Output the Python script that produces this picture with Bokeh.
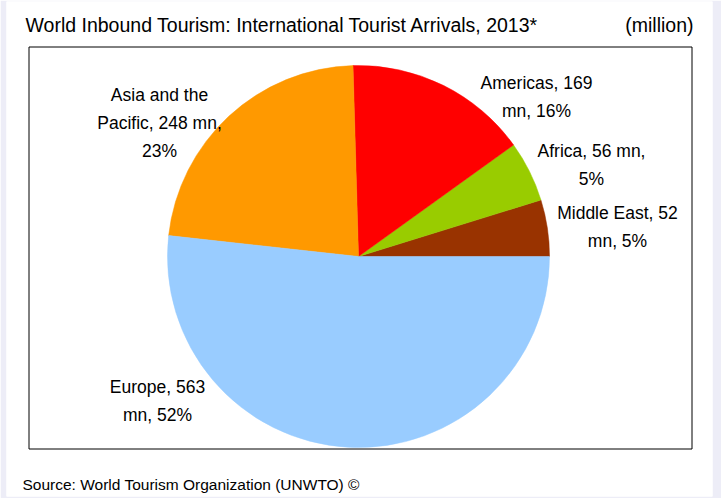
import math
from bokeh.plotting import figure
from bokeh.models import Range1d, ColumnDataSource
from bokeh.core.properties import value
from bokeh.embed import file_html
from bokeh.resources import INLINE

# ---- data ----
regions = ["Middle East", "Africa", "Americas", "Asia and the Pacific", "Europe"]
arrivals = [52, 56, 169, 248, 563]
colors = ["#993300", "#99CC00", "#FF0000", "#FF9900", "#99CCFF"]
label_lines = [
    ["Middle East, 52", "mn, 5%"],
    ["Africa, 56 mn,", "5%"],
    ["Americas, 169", "mn, 16%"],
    ["Asia and the", "Pacific, 248 mn,", "23%"],
    ["Europe, 563", "mn, 52%"],
]
title_text = "World Inbound Tourism: International Tourist Arrivals, 2013*"
unit_text = "(million)"
source_text = "Source: World Tourism Organization (UNWTO) \u00a9"

# ---- layout (page pixels; data y = -pixel y) ----
W, H = 721, 498
FONT = "Liberation Sans"
cx, cy, r = 358, 256, 191
label_pos = [(617, 212), (591, 150), (536, 82), (159, 94), (157, 386)]
line_gap = 28

p = figure(width=W, height=H, output_backend="svg", toolbar_location=None,
           x_range=Range1d(6, 712), y_range=Range1d(-496, -1),
           x_axis_type=None, y_axis_type=None,
           min_border_left=6, min_border_right=9, min_border_top=1, min_border_bottom=2)
p.grid.visible = False
p.outline_line_color = None
p.background_fill_color = "white"
p.border_fill_color = "#EDEDF7"

# frame box
p.quad(left=[28.5], right=[691.5], top=[-46.5], bottom=[-448.5],
       fill_color=None, line_color="black", line_width=1)

# pie
total = sum(arrivals)
starts, ends = [], []
acc = 0.0
for v in arrivals:
    starts.append(2 * math.pi * acc / total)
    acc += v
    ends.append(2 * math.pi * acc / total)
src = ColumnDataSource(dict(region=regions, value=arrivals, color=colors,
                            start=starts, end=ends))
p.wedge(x=cx, y=-cy, radius=r, start_angle="start", end_angle="end",
        fill_color="color", line_color="color", line_width=0.5, source=src)

# data labels
lx, ly, lt = [], [], []
for (x0, y0), lines in zip(label_pos, label_lines):
    for i, t in enumerate(lines):
        lx.append(x0)
        ly.append(-(y0 + i * line_gap))
        lt.append(t)
p.text(x=lx, y=ly, text=lt, text_font=value(FONT), text_font_size="17.5px",
       text_align="center", text_baseline="alphabetic", text_color="black")

# title, unit, source
p.text(x=[25], y=[-24], text=[title_text], text_font=value(FONT), text_font_size="19.5px",
       text_align="left", text_baseline="alphabetic", text_color="black")
p.text(x=[693], y=[-24], text=[unit_text], text_font=value(FONT), text_font_size="19.5px",
       text_align="right", text_baseline="alphabetic", text_color="black")
p.text(x=[22], y=[-484], text=[source_text], text_font=value(FONT), text_font_size="15.5px",
       text_align="left", text_baseline="alphabetic", text_color="black")

open("out.html", "w").write(file_html(p, INLINE))
